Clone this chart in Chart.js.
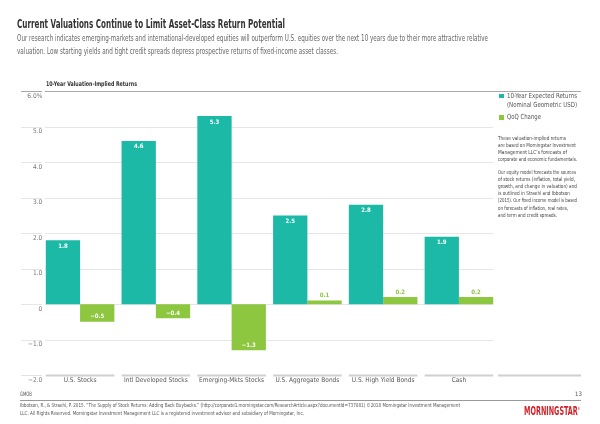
<!DOCTYPE html>
<html><head><meta charset="utf-8">
<script src="https://cdn.jsdelivr.net/npm/chart.js@4"></script>
<style>
html,body{margin:0;padding:0;background:#fff;}
body{width:600px;height:424px;position:relative;overflow:hidden;font-family:"Liberation Sans Narrow","DejaVu Sans Condensed","Roboto Condensed","Liberation Sans",Arial,sans-serif;}
#c{position:absolute;left:0;top:0;}
.t{position:absolute;white-space:nowrap;transform-origin:0 50%;}
.sq{position:absolute;width:4.7px;height:4.7px;}
</style></head><body>
<canvas id="c" width="600" height="424"></canvas>

<div class="t" data-w="268" style="left:17px;top:18.3px;font-size:12px;line-height:12px;font-weight:bold;color:#333">Current Valuations Continue to Limit Asset-Class Return Potential</div>
<div class="t" data-w="471" style="left:17px;top:34.8px;font-size:8px;line-height:8px;color:#666">Our research indicates emerging-markets and international-developed equities will outperform U.S. equities over the next 10 years due to their more attractive relative</div>
<div class="t" data-w="321" style="left:17px;top:47.7px;font-size:8px;line-height:8px;color:#666">valuation. Low starting yields and tight credit spreads depress prospective returns of fixed-income asset classes.</div>

<div class="t" data-w="91" style="left:46px;top:80.8px;font-size:6.5px;line-height:6.5px;font-weight:bold;color:#333">10-Year Valuation-Implied Returns</div>

<div class="sq" style="left:499px;top:93.7px;background:#1bb9a6"></div>
<div class="t" data-w="70" style="left:507px;top:92.5px;font-size:7px;line-height:7px;color:#555">10-Year Expected Returns</div>
<div class="t" data-w="70" style="left:507px;top:101.5px;font-size:7px;line-height:7px;color:#555">(Nominal Geometric USD)</div>
<div class="sq" style="left:499px;top:115px;background:#8dc63f"></div>
<div class="t" data-w="34" style="left:507px;top:113.8px;font-size:7px;line-height:7px;color:#555">QoQ Change</div>

<div class="t" data-w="68" style="left:498px;top:136px;font-size:5.5px;line-height:5.5px;color:#444">These valuation-implied returns</div>
<div class="t" data-w="78" style="left:498px;top:143.3px;font-size:5.5px;line-height:5.5px;color:#444">are based on Morningstar Investment</div>
<div class="t" data-w="69" style="left:498px;top:150.3px;font-size:5.5px;line-height:5.5px;color:#444">Management LLC’s forecasts of</div>
<div class="t" data-w="79" style="left:498px;top:157.3px;font-size:5.5px;line-height:5.5px;color:#444">corporate and economic fundamentals.</div>

<div class="t" data-w="78" style="left:498px;top:170px;font-size:5.5px;line-height:5.5px;color:#444">Our equity model forecasts the sources</div>
<div class="t" data-w="77" style="left:498px;top:177.3px;font-size:5.5px;line-height:5.5px;color:#444">of stock returns (inflation, total yield,</div>
<div class="t" data-w="79" style="left:498px;top:184.3px;font-size:5.5px;line-height:5.5px;color:#444">growth, and change in valuation) and</div>
<div class="t" data-w="72" style="left:498px;top:191.3px;font-size:5.5px;line-height:5.5px;color:#444">is outlined in Straehl and Ibbotson</div>
<div class="t" data-w="79" style="left:498px;top:198.3px;font-size:5.5px;line-height:5.5px;color:#444">(2015). Our fixed income model is based</div>
<div class="t" data-w="70" style="left:498px;top:205.6px;font-size:5.5px;line-height:5.5px;color:#444">on forecasts of inflation, real rates,</div>
<div class="t" data-w="59" style="left:498px;top:212.6px;font-size:5.5px;line-height:5.5px;color:#444">and term and credit spreads.</div>

<div class="t" data-w="12" style="left:20px;top:391px;font-size:6px;line-height:6px;color:#555">GMOB</div>
<div class="t" style="left:575px;top:391px;font-size:6px;line-height:6px;color:#555">13</div>
<div style="position:absolute;left:20px;top:399.5px;width:561px;height:1px;background:#999"></div>
<div class="t" data-w="440" style="left:20px;top:403px;font-size:5.5px;line-height:5.5px;color:#555">Ibbotson, R., &amp; Straehl, P. 2015. “The Supply of Stock Returns: Adding Back Buybacks.” (http://corporate1.morningstar.com/ResearchArticle.aspx?documentId=737081) ©2018 Morningstar Investment Management</div>
<div class="t" data-w="284" style="left:20px;top:410.5px;font-size:5.5px;line-height:5.5px;color:#555">LLC.  All Rights Reserved. Morningstar Investment Management LLC is a registered investment advisor and subsidiary of Morningstar, Inc.</div>
<div class="t" data-w="56" style="left:524px;top:403px;font-size:12px;line-height:12px;font-weight:bold;color:#d2232a">MORNINGSTAR<sup style="font-size:4px">®</sup></div>

<script>
// ---- data ----
const categories = ['U.S. Stocks', 'Intl Developed Stocks', 'Emerging-Mkts Stocks', 'U.S. Aggregate Bonds', 'U.S. High Yield Bonds', 'Cash'];
const expectedReturns = [1.8, 4.6, 5.3, 2.5, 2.8, 1.9];
const qoqChange = [-0.5, -0.4, -1.3, 0.1, 0.2, 0.2];
const yTickLabels = ['−2.0', '−1.0', '0', '1.0', '2.0', '3.0', '4.0', '5.0', '6.0%'];
const seriesNames = ['10-Year Expected Returns (Nominal Geometric USD)', 'QoQ Change'];

const TEAL = '#1bb9a6', GREEN = '#8dc63f';
const FONT = '"Liberation Sans Narrow","DejaVu Sans Condensed","Roboto Condensed","Liberation Sans",Arial,sans-serif';
const CAT_PCT = 0.905;

function fmt(v){ return v.toFixed(1).replace('-', '−'); }

const gridPlugin = {
  id: 'gridPlugin',
  beforeDatasetsDraw(chart){
    const {ctx, scales:{x, y}} = chart;
    const catW = (x.right - x.left) / categories.length;
    const groupW = catW * CAT_PCT;
    const firstL = x.getPixelForValue(0) - groupW/2;
    const lastR = x.getPixelForValue(categories.length-1) + groupW/2;
    ctx.save();
    y.ticks.forEach(t => {
      const py = Math.round(y.getPixelForValue(t.value)) + 0.5;
      ctx.lineWidth = 1;
      if (t.value === y.max) {
        ctx.strokeStyle = '#a8a8a8';
        ctx.beginPath(); ctx.moveTo(21, py); ctx.lineTo(42, py); ctx.moveTo(firstL-1, py); ctx.lineTo(581, py); ctx.stroke();
      } else if (t.value === y.min) {
        ctx.strokeStyle = '#e2e2e2';
        ctx.beginPath(); ctx.moveTo(21, py); ctx.lineTo(42, py); ctx.stroke();
      } else {
        ctx.strokeStyle = '#e6e6e6';
        ctx.beginPath(); ctx.moveTo(21, py); ctx.lineTo(42, py); ctx.moveTo(firstL-1, py); ctx.lineTo(lastR, py); ctx.stroke();
      }
    });
    // bottom category segments
    const by = y.getPixelForValue(y.min) + 0.5;
    ctx.strokeStyle = '#cfcfcf'; ctx.lineWidth = 2;
    ctx.beginPath();
    categories.forEach((c, i) => {
      const cx = x.getPixelForValue(i);
      ctx.moveTo(cx - groupW/2, by); ctx.lineTo(cx + groupW/2, by);
    });
    ctx.moveTo(498, by); ctx.lineTo(581, by);
    ctx.stroke();
    ctx.restore();
  }
};

const labelPlugin = {
  id: 'labelPlugin',
  afterDatasetsDraw(chart){
    const ctx = chart.ctx;
    ctx.save();
    ctx.font = '600 6px ' + FONT;
    ctx.textAlign = 'center'; ctx.textBaseline = 'middle';
    chart.data.datasets.forEach((ds, di) => {
      chart.getDatasetMeta(di).data.forEach((el, i) => {
        const v = ds.data[i];
        let yy, col;
        if (di === 0) { yy = el.y + 6; col = '#fff'; }
        else if (v < 0) { yy = el.y - 5; col = '#fff'; }
        else { yy = el.y - 5; col = GREEN; }
        ctx.fillStyle = col;
        ctx.fillText(fmt(v), el.x, yy);
      });
    });
    ctx.restore();
  }
};

Chart.defaults.font.family = FONT;

new Chart(document.getElementById('c'), {
  type: 'bar',
  data: {
    labels: categories,
    datasets: [
      { label: seriesNames[0], data: expectedReturns, backgroundColor: TEAL, borderWidth: 0, barPercentage: 1, categoryPercentage: CAT_PCT },
      { label: seriesNames[1], data: qoqChange, backgroundColor: GREEN, borderWidth: 0, barPercentage: 1, categoryPercentage: CAT_PCT }
    ]
  },
  options: {
    responsive: false,
    animation: false,
    layout: { padding: { left: 0, right: 103.2, top: 91.2, bottom: 0 } },
    plugins: { legend: { display: false }, tooltip: { enabled: false }, title: { display: false } },
    scales: {
      x: {
        grid: { display: false, drawTicks: false },
        border: { display: false },
        ticks: { color: '#555', font: { size: 6.5 }, padding: 1.5, maxRotation: 0, autoSkip: false },
        afterFit(s){ s.height = 48.9; }
      },
      y: {
        min: -2, max: 6,
        grid: { display: false, drawTicks: false },
        border: { display: false },
        ticks: { stepSize: 1, color: '#777', font: { size: 6.5 }, padding: 0, labelOffset: 5,
                 callback: (v, i) => yTickLabels[i] },
        afterFit(s){ s.width = 42.2; }
      }
    }
  },
  plugins: [gridPlugin, labelPlugin]
});

function fitTexts(){
  document.querySelectorAll('.t[data-w]').forEach(el => {
    el.style.transform = 'none';
    const w = el.getBoundingClientRect().width;
    if (w > 0) el.style.transform = 'scaleX(' + (parseFloat(el.dataset.w) / w) + ')';
  });
}
fitTexts();
if (document.fonts && document.fonts.ready) document.fonts.ready.then(fitTexts);
</script>
</body></html>
